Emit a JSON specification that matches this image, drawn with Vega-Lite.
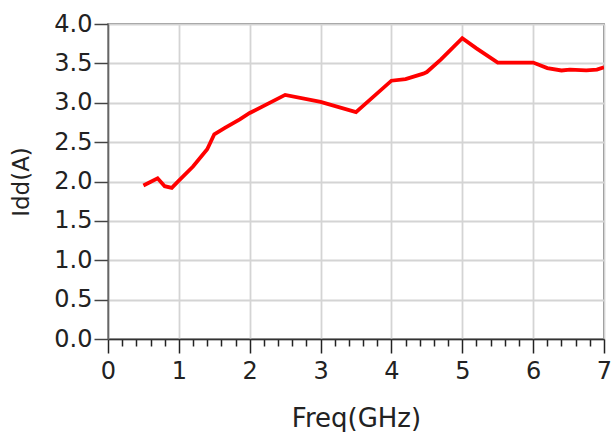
{
  "$schema": "https://vega.github.io/schema/vega-lite/v6.json",
  "width": 496,
  "height": 315,
  "autosize": {"type": "none"},
  "padding": {"left": 108, "top": 24, "right": 8, "bottom": 93},
  "background": "white",
  "config": {
    "view": {"stroke": "#555", "strokeWidth": 1.5},
    "font": "DejaVu Sans"
  },
  "data": {"values": [
    {"f": 0.5, "idd": 1.95},
    {"f": 0.7, "idd": 2.04},
    {"f": 0.8, "idd": 1.94},
    {"f": 0.9, "idd": 1.92},
    {"f": 1.0, "idd": 2.01},
    {"f": 1.2, "idd": 2.19},
    {"f": 1.4, "idd": 2.41},
    {"f": 1.5, "idd": 2.6},
    {"f": 1.65, "idd": 2.68},
    {"f": 1.86, "idd": 2.79},
    {"f": 2.0, "idd": 2.87},
    {"f": 2.5, "idd": 3.1},
    {"f": 3.0, "idd": 3.01},
    {"f": 3.5, "idd": 2.88},
    {"f": 4.0, "idd": 3.28},
    {"f": 4.2, "idd": 3.3},
    {"f": 4.45, "idd": 3.37},
    {"f": 4.5, "idd": 3.39},
    {"f": 4.7, "idd": 3.55},
    {"f": 5.0, "idd": 3.82},
    {"f": 5.2, "idd": 3.69},
    {"f": 5.5, "idd": 3.51},
    {"f": 6.0, "idd": 3.51},
    {"f": 6.2, "idd": 3.44},
    {"f": 6.4, "idd": 3.41},
    {"f": 6.52, "idd": 3.42},
    {"f": 6.75, "idd": 3.41},
    {"f": 6.9, "idd": 3.42},
    {"f": 7.0, "idd": 3.45}
  ]},
  "layer": [
    {
      "mark": {"type": "rule", "opacity": 0},
      "encoding": {
        "x": {
          "field": "f", "type": "quantitative",
          "scale": {"domain": [0, 7], "nice": false, "zero": false},
          "axis": {
            "orient": "bottom",
            "title": null,
            "values": [0.2, 0.4, 0.6, 0.8, 1.2, 1.4, 1.6, 1.8, 2.2, 2.4, 2.6, 2.8, 3.2, 3.4, 3.6, 3.8, 4.2, 4.4, 4.6, 4.8, 5.2, 5.4, 5.6, 5.8, 6.2, 6.4, 6.6, 6.8],
            "labels": false, "grid": false, "domain": false,
            "tickColor": "#222", "tickWidth": 1.5, "tickSize": 7
          }
        }
      }
    },
    {
      "mark": {"type": "line", "color": "#ff0000", "strokeWidth": 3.8, "clip": true},
      "encoding": {
        "x": {
          "field": "f", "type": "quantitative",
          "scale": {"domain": [0, 7], "nice": false, "zero": false},
          "axis": {
            "orient": "bottom",
            "title": "Freq(GHz)",
            "values": [0, 1, 2, 3, 4, 5, 6, 7],
            "format": "d",
            "labelFlush": false,
            "grid": true, "gridColor": "#d4d4d4", "gridWidth": 1.8,
            "domainColor": "#333", "domainWidth": 1.5,
            "tickColor": "#222", "tickWidth": 1.5, "tickSize": 14,
            "labelFontSize": 24, "labelColor": "#222", "labelPadding": 6,
            "labelFont": "DejaVu Sans",
            "titleFontSize": 26, "titleFontWeight": "normal", "titleColor": "#222",
            "titlePadding": 22, "titleFont": "DejaVu Sans"
          }
        },
        "y": {
          "field": "idd", "type": "quantitative",
          "scale": {"domain": [0, 4], "nice": false, "zero": false},
          "axis": {
            "title": "Idd(A)",
            "values": [0, 0.5, 1, 1.5, 2, 2.5, 3, 3.5, 4],
            "format": ".1f",
            "labelOverlap": false,
            "labelFlush": false,
            "grid": true, "gridColor": "#d4d4d4", "gridWidth": 1.8,
            "domainColor": "#666", "domainWidth": 1.5,
            "tickColor": "#444", "tickWidth": 1.5, "tickSize": 14,
            "labelFontSize": 24, "labelColor": "#222", "labelPadding": 2,
            "labelFont": "DejaVu Sans",
            "titleFontSize": 23, "titleFontWeight": "normal", "titleColor": "#222",
            "titlePadding": 20, "titleFont": "DejaVu Sans"
          }
        }
      }
    }
  ],
  "resolve": {"axis": {"x": "independent"}}
}
